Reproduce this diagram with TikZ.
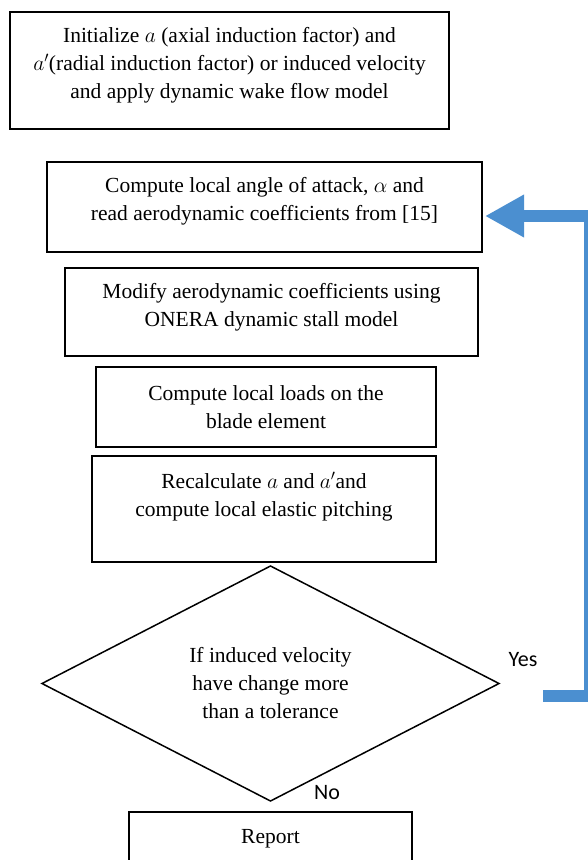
\RequirePackage{fix-cm}
\documentclass[tikz,border=0pt]{standalone}
\usepackage{fontspec}
\setmainfont{Liberation Serif}
\newfontfamily\calibri{Carlito}
\usepackage{xcolor}
\usepackage{tikz}
\usetikzlibrary{positioning, arrows.meta, shapes.geometric}
\definecolor{ink}{HTML}{000000}
\definecolor{loopback}{HTML}{4B8FD0}

\begin{document}
\begin{tikzpicture}[x=1pt, y=-1pt,
  font=\fontsize{21.5}{28}\selectfont,
  stepbox/.style={draw=ink, line width=1.6pt, align=center, inner sep=0pt, outer sep=0pt},
  decide/.style={draw=ink, diamond, line width=1.5pt, align=center, inner sep=0pt, outer sep=0pt},
  tag/.style={font=\calibri\fontsize{22}{26}\selectfont, inner sep=0pt},
  back/.style={-{Triangle[length=39pt, width=40pt]}, line width=12pt, loopback}]
  \useasboundingbox (0,0) rectangle (588,860);
  \clip (0,0) rectangle (588,860);
  \node[stepbox, minimum width=439pt, minimum height=117pt, text depth=16pt] (init) at (229.5,70.5)
    {Initialize $a$ (axial induction factor) and\\ $a'$(radial induction factor) or induced velocity\\ and apply dynamic wake flow model};
  \node[stepbox, minimum width=435pt, minimum height=90pt, text depth=17pt, below=33pt of init, xshift=35pt] (aoa)
    {Compute local angle of attack, $\alpha$ and\\ read aerodynamic coefficients from [15]};
  \node[stepbox, minimum width=413pt, minimum height=88pt, text depth=15pt, below=16pt of aoa, xshift=7pt] (stall)
    {Modify aerodynamic coefficients using\\ ONERA dynamic stall model};
  \node[stepbox, minimum width=340pt, minimum height=80pt, below=11pt of stall, xshift=-5.5pt] (loads)
    {Compute local loads on the\\ blade element};
  \node[stepbox, minimum width=344pt, minimum height=106pt, text depth=29pt, below=9pt of loads, xshift=-2pt] (recalc)
    {Recalculate $a$ and $a'$and\\ compute local elastic pitching};
  \node[decide, minimum width=457pt, minimum height=235pt, below=4pt of recalc, xshift=6.5pt] (check)
    {If induced velocity\\ have change more\\ than a tolerance};
  \node[stepbox, minimum width=283pt, minimum height=54pt, below=11pt of check] (report) {Report};
  \node[tag] (yes) at (523,660) {Yes};
  \node[tag] (no) at (327,793) {No};
  \coordinate (yesout) at (543,696);
  \coordinate (rail) at (590,216);
  \draw[back] (yesout) -- (yesout -| rail) |- ([xshift=3pt, yshift=-9pt]aoa.east);
\end{tikzpicture}
\end{document}
